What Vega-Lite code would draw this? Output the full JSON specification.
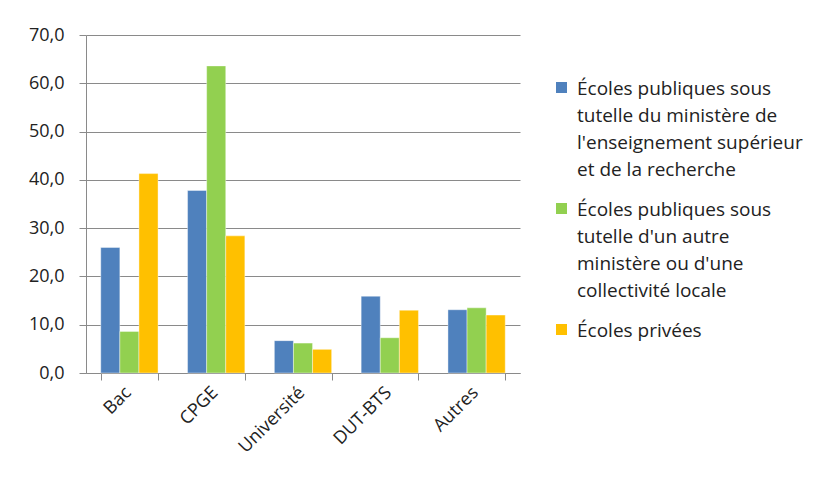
{
  "$schema": "https://vega.github.io/schema/vega-lite/v6.json",
  "autosize": {"type": "none"},
  "width": 434,
  "height": 338,
  "padding": {"left": 86, "top": 35, "right": 303, "bottom": 110},
  "background": "white",
  "config": {
    "font": "Open Sans",
    "view": {"stroke": null},
    "style": {"guide-label": {"lineHeight": 27, "dy": -8}},
    "axis": {"labelFont": "Open Sans", "labelColor": "#222222", "labelFontSize": 18, "domainColor": "#8a8a8a", "tickColor": "#8a8a8a", "gridColor": "#8a8a8a"}
  },
  "data": {
    "values": [
      {"cat": "Bac", "serie": "A", "v": 26.0},
      {"cat": "Bac", "serie": "B", "v": 8.6},
      {"cat": "Bac", "serie": "C", "v": 41.3},
      {"cat": "CPGE", "serie": "A", "v": 37.8},
      {"cat": "CPGE", "serie": "B", "v": 63.6},
      {"cat": "CPGE", "serie": "C", "v": 28.4},
      {"cat": "Université", "serie": "A", "v": 6.7},
      {"cat": "Université", "serie": "B", "v": 6.2},
      {"cat": "Université", "serie": "C", "v": 4.9},
      {"cat": "DUT-BTS", "serie": "A", "v": 15.9},
      {"cat": "DUT-BTS", "serie": "B", "v": 7.3},
      {"cat": "DUT-BTS", "serie": "C", "v": 13.0},
      {"cat": "Autres", "serie": "A", "v": 13.1},
      {"cat": "Autres", "serie": "B", "v": 13.5},
      {"cat": "Autres", "serie": "C", "v": 12.0}
    ]
  },
  "mark": {"type": "bar", "stroke": "#ffffff", "strokeOpacity": 0.5, "strokeWidth": 0.8},
  "encoding": {
    "x": {
      "field": "cat", "type": "nominal", "sort": null,
      "scale": {"paddingInner": 0.34, "paddingOuter": 0.17},
      "axis": {"title": null, "labelAngle": -45, "tickBand": "extent", "ticks": true, "tickSize": 7, "grid": false, "labelPadding": 9, "labelOffset": -2}
    },
    "xOffset": {"field": "serie", "type": "nominal", "scale": {"padding": 0}},
    "y": {
      "field": "v", "type": "quantitative",
      "scale": {"domain": [0, 70], "nice": false},
      "axis": {"title": null, "values": [0, 10, 20, 30, 40, 50, 60, 70], "tickSize": 7, "labelPadding": 15, "labelOffset": 8, "grid": true, "labelExpr": "replace(format(datum.value, '.1f'), '.', ',')"}
    },
    "color": {
      "field": "serie", "type": "nominal",
      "scale": {"domain": ["A", "B", "C"], "range": ["#4F81BD", "#92D050", "#FFC000"]},
      "legend": {
        "title": null, "orient": "none", "legendX": 466, "legendY": 43,
        "symbolType": "square", "symbolSize": 121, "symbolStrokeWidth": 0,
        "labelFont": "Open Sans", "labelFontSize": 19, "labelColor": "#222222", "labelLimit": 400, "labelBaseline": "top", "labelOffset": 6, "rowPadding": 19,
        "labelExpr": "datum.label == 'A' ? ['Écoles publiques sous', 'tutelle du ministère de', \"l'enseignement supérieur\", 'et de la recherche'] : datum.label == 'B' ? ['Écoles publiques sous', \"tutelle d'un autre\", \"ministère ou d'une\", 'collectivité locale'] : 'Écoles privées'"
      }
    }
  }
}
